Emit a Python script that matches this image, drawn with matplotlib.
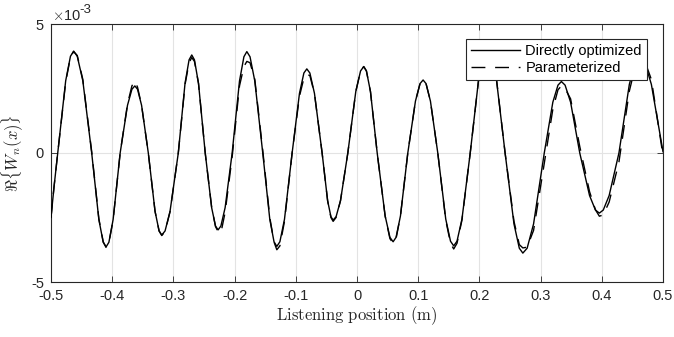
import numpy as np
import matplotlib
matplotlib.use("Agg")
import matplotlib.pyplot as plt
from matplotlib.transforms import offset_copy

plt.rcParams['font.family'] = ['Liberation Sans', 'DejaVu Sans']
plt.rcParams['mathtext.fontset'] = 'cm'
plt.rcParams['axes.unicode_minus'] = False

# Listening position (m)
x_pos = [
    -0.500, -0.495, -0.489,
    -0.476, -0.4682, -0.463, -0.4571, -0.448, -0.4335,
    -0.4218, -0.4147, -0.410, -0.4054, -0.3985, -0.387,
    -0.375, -0.3678, -0.363, -0.3586, -0.352, -0.341,
    -0.330, -0.3234, -0.319, -0.3136, -0.3055, -0.292,
    -0.281, -0.2744, -0.270, -0.2656, -0.259, -0.248,
    -0.2375, -0.2312, -0.227, -0.2224, -0.2155, -0.204,
    -0.192, -0.1848, -0.180, -0.1748, -0.167, -0.154,
    -0.1425, -0.1356, -0.131, -0.126, -0.1185, -0.106,
    -0.094, -0.0868, -0.082, -0.077, -0.0695, -0.057,
    -0.048, -0.0426, -0.039, -0.0342, -0.027, -0.015,
    -0.002, 0.0058, 0.011, 0.0154, 0.022, 0.033,
    0.046, 0.0538, 0.059, 0.0638, 0.071, 0.083,
    0.0955, 0.103, 0.108, 0.1128, 0.120, 0.132,
    0.145, 0.1528, 0.158, 0.1634, 0.1715, 0.185,
    0.199, 0.2074, 0.213, 0.2188, 0.2275, 0.242,
    0.2565, 0.2652, 0.271, 0.278, 0.2885, 0.306,
    0.320, 0.3284, 0.334, 0.340, 0.349, 0.364,
    0.380, 0.3896, 0.396, 0.4024, 0.412, 0.428,
    0.445, 0.4552, 0.462, 0.4696, 0.481, 0.500,
]

# Re{W_n(x)} in units of 1e-3
directly_optimized = [
    -2.50, -1.30, 0.00,
    2.80, 3.75, 3.95, 3.75, 2.80, 0.00,
    -2.58, -3.46, -3.64, -3.46, -2.58, 0.00,
    1.85, 2.47, 2.60, 2.47, 1.85, 0.00,
    -2.26, -3.02, -3.18, -3.02, -2.26, 0.00,
    2.70, 3.61, 3.80, 3.61, 2.70, 0.00,
    -2.12, -2.83, -2.98, -2.83, -2.12, 0.00,
    2.79, 3.73, 3.93, 3.73, 2.79, 0.00,
    -2.57, -3.44, -3.62, -3.44, -2.57, 0.00,
    2.31, 3.10, 3.26, 3.10, 2.31, 0.00,
    -1.85, -2.47, -2.60, -2.47, -1.85, 0.00,
    2.38, 3.18, 3.35, 3.18, 2.38, 0.00,
    -2.44, -3.27, -3.44, -3.27, -2.44, 0.00,
    2.01, 2.69, 2.83, 2.69, 2.01, 0.00,
    -2.56, -3.42, -3.60, -3.42, -2.56, 0.00,
    2.91, 3.90, 4.10, 3.90, 2.91, 0.00,
    -2.75, -3.69, -3.88, -3.69, -2.75, 0.00,
    1.97, 2.63, 2.77, 2.63, 1.97, 0.00,
    -1.65, -2.21, -2.33, -2.21, -1.65, 0.00,
    2.66, 3.56, 3.75, 3.56, 2.66, 0.05,
]

parameterized = [
    -2.50, -1.30, 0.00,
    2.75, 3.72, 3.93, 3.78, 2.85, 0.05,
    -2.55, -3.44, -3.66, -3.48, -2.60, 0.00,
    1.90, 2.60, 2.80, 2.55, 1.85, 0.00,
    -2.26, -3.02, -3.20, -3.04, -2.28, 0.00,
    2.65, 3.50, 3.70, 3.55, 2.70, 0.00,
    -2.10, -2.85, -3.05, -3.10, -2.30, -0.15,
    2.60, 3.35, 3.55, 3.50, 2.85, 0.10,
    -2.50, -3.45, -3.75, -3.60, -2.65, 0.00,
    2.20, 2.90, 3.05, 3.00, 2.30, 0.00,
    -1.85, -2.50, -2.65, -2.50, -1.85, 0.00,
    2.38, 3.18, 3.35, 3.18, 2.38, 0.00,
    -2.45, -3.32, -3.50, -3.32, -2.44, 0.00,
    2.01, 2.69, 2.83, 2.69, 2.01, 0.00,
    -2.60, -3.50, -3.72, -3.50, -2.60, 0.00,
    2.90, 3.90, 4.05, 3.90, 2.95, 0.00,
    -2.65, -3.55, -3.68, -3.65, -3.00, -0.40,
    1.70, 2.45, 2.60, 2.50, 2.10, 0.25,
    -1.50, -2.20, -2.45, -2.40, -1.90, -0.35,
    2.40, 3.40, 3.70, 3.60, 2.85, -0.10,
]

series_labels = ["Directly optimized", "Parameterized"]
x_ticks = [-0.5, -0.4, -0.3, -0.2, -0.1, 0, 0.1, 0.2, 0.3, 0.4, 0.5]
x_ticklabels = ["-0.5", "-0.4", "-0.3", "-0.2", "-0.1", "0", "0.1", "0.2", "0.3", "0.4", "0.5"]
y_ticks = [-5, 0, 5]
y_ticklabels = ["-5", "0", "5"]

W, H = 674, 337
fig = plt.figure(figsize=(W / 100, H / 100), dpi=100)
ax = fig.add_axes([51 / W, 1 - 282 / H, (663 - 51) / W, (282 - 24) / H])

axcol = '#262626'
ax.plot(x_pos, directly_optimized, color='black', lw=1.0, label=series_labels[0], zorder=3)
ax.plot(x_pos, parameterized, color='black', lw=1.0, linestyle=(0, (10, 7)),
        label=series_labels[1], zorder=3)

ax.set_xlim(-0.5, 0.5)
ax.set_ylim(-5, 5)
ax.set_xticks(x_ticks)
ax.set_xticklabels(x_ticklabels)
ax.set_yticks(y_ticks)
ax.set_yticklabels(y_ticklabels)
ax.grid(True, color='#e3e3e3', lw=0.8, zorder=0)
ax.set_axisbelow(True)
ax.tick_params(direction='in', length=4.5, width=0.6, color=axcol, labelcolor=axcol,
               labelsize=10.5, top=True, right=True, pad=5)
for s in ax.spines.values():
    s.set_color(axcol)
    s.set_linewidth(0.8)

ax.set_xlabel(r'$\mathrm{Listening\ position\ (m)}$', fontsize=12, color=axcol, labelpad=1)
ax.set_ylabel(r'$\Re\{W_n(x)\}$', fontsize=12, color=axcol, labelpad=4)

# exponent label "x10^-3"
ax.text(0.0, 1.0, r'$\times$10', transform=offset_copy(ax.transAxes, fig=fig, x=0.5, y=1, units='points'),
        fontsize=10.5, color=axcol, ha='left', va='bottom')
ax.text(0.0, 1.0, '-3', transform=offset_copy(ax.transAxes, fig=fig, x=20.5, y=5.5, units='points'),
        fontsize=9.5, color=axcol, ha='left', va='bottom')

leg = ax.legend(loc='upper right', bbox_to_anchor=(647 / W, 1 - 39 / H),
                bbox_transform=fig.transFigure, fontsize=10.5, handlelength=3.3,
                frameon=True, fancybox=False, borderpad=0.35, labelspacing=0.2,
                handletextpad=0.4, borderaxespad=0)
leg.get_frame().set_edgecolor(axcol)
leg.get_frame().set_linewidth(0.8)
leg.get_frame().set_alpha(1)

fig.savefig('out.png', dpi=100)
